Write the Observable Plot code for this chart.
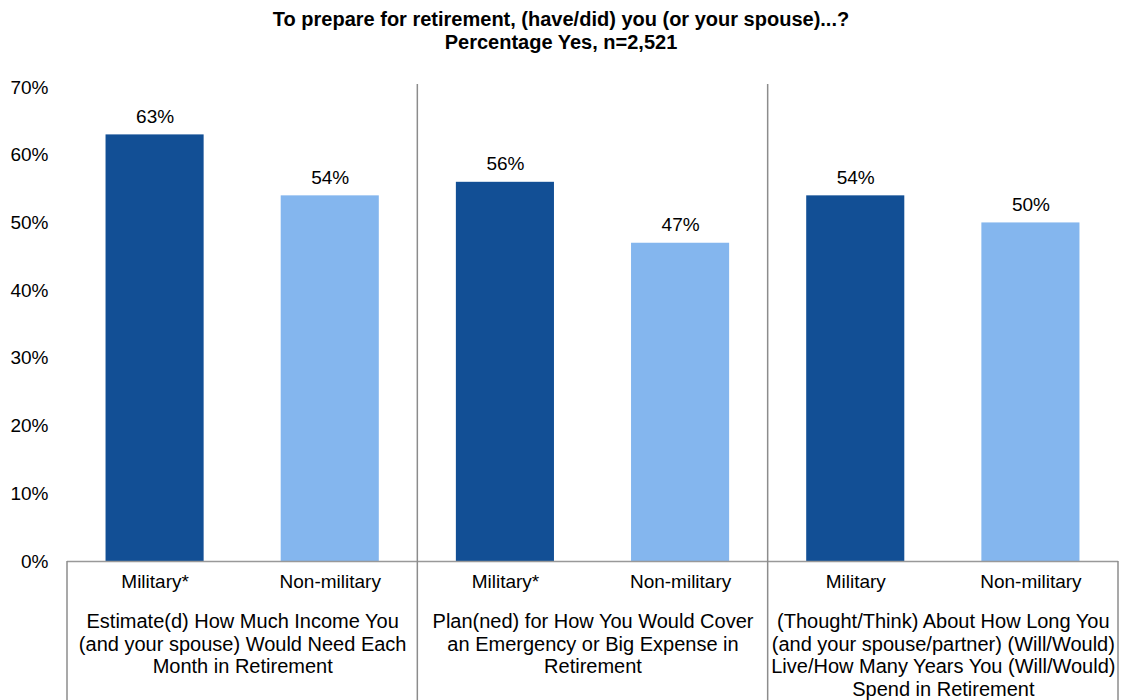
<!DOCTYPE html>
<html><head><meta charset="utf-8">
<script src="https://cdn.jsdelivr.net/npm/d3@7"></script>
<script src="https://cdn.jsdelivr.net/npm/@observablehq/plot@0.6"></script>
<style>
body{margin:0;background:#fff;font-family:"Liberation Sans",Arial,sans-serif;}
#title{width:1122px;height:60px;box-sizing:border-box;padding-top:8px;text-align:center;font-weight:bold;font-size:20px;line-height:23px;color:#000;}
#chart svg{display:block;}
</style></head><body>
<div id="title">To prepare for retirement, (have/did) you (or your spouse)...?<br>Percentage Yes, n=2,521</div>
<div id="chart"></div>
<script>
const groups = [
  "Estimate(d) How Much Income You\n(and your spouse) Would Need Each\nMonth in Retirement",
  "Plan(ned) for How You Would Cover\nan Emergency or Big Expense in\nRetirement",
  "(Thought/Think) About How Long You\n(and your spouse/partner) (Will/Would)\nLive/How Many Years You (Will/Would)\nSpend in Retirement"
];
const series = ["Military", "Non-military"];
const barLabels = [["Military*", "Non-military"], ["Military*", "Non-military"], ["Military", "Non-military"]];
const military = [0.63, 0.56, 0.54];
const nonMilitary = [0.54, 0.47, 0.50];
const yTicks = [0, 0.1, 0.2, 0.3, 0.4, 0.5, 0.6, 0.7];
const colors = ["#124f95", "#84b6ee"];

const rows = groups.flatMap((g, i) => series.map((s, j) => ({
  group: g, series: s, label: barLabels[i][j], value: j === 0 ? military[i] : nonMilitary[i]
})));

const pct = d => Math.round(d * 100) + "%";

const plot = Plot.plot({
  width: 1122, height: 640,
  marginTop: 27, marginBottom: 139, marginLeft: 67, marginRight: 4,
  style: {fontFamily: "Liberation Sans, Arial, sans-serif", fontSize: "19px", color: "#000", background: "#fff"},
  fx: {domain: groups, padding: 0, axis: null, round: false},
  x: {domain: series, paddingInner: 0.44, paddingOuter: 0.22, axis: null, round: false},
  y: {domain: [0, 0.7], axis: null},
  color: {domain: series, range: colors},
  marks: [
    Plot.axisY({ticks: yTicks, tickFormat: pct, tickSize: 0, tickPadding: 19, fontSize: 19, label: null}),
    Plot.barY(rows, {fx: "group", x: "series", y: "value", fill: "series"}),
    Plot.ruleY([0], {stroke: "#999", strokeWidth: 1.5}),
    Plot.text(rows, {fx: "group", x: "series", y: "value", text: d => pct(d.value), dy: -18, fontSize: 19, fill: "#000"}),
    Plot.text(rows, {fx: "group", x: "series", text: "label", frameAnchor: "bottom", dy: 26, fontSize: 19, fill: "#000"}),
    Plot.text(groups, {fx: d => d, text: d => d, frameAnchor: "bottom", dy: 51, lineAnchor: "top", lineHeight: 1.12, fontSize: 20, fill: "#000"})
  ]
});

document.getElementById("chart").appendChild(plot);

// separator lines between facets, positioned through the plot's own scales
const svg = plot.tagName.toLowerCase() === "svg" ? d3.select(plot) : d3.select(plot).select("svg");
const fxd = plot.scale("fx"), yd = plot.scale("y");
const fxs = d3.scaleBand().domain(fxd.domain).range(fxd.range)
  .paddingInner(fxd.paddingInner || 0).paddingOuter(fxd.paddingOuter || 0);
const ys = d3.scaleLinear().domain(yd.domain).range(yd.range);
const H = 640;
const g = svg.append("g").attr("stroke", "#8c8c8c").attr("stroke-width", 1.5);
groups.forEach((grp, i) => {
  const x = fxs(grp);
  g.append("line").attr("x1", x).attr("x2", x)
    .attr("y1", i === 0 ? ys(0) : ys(0.7) - 3).attr("y2", H);
});
const xr = fxs(groups[groups.length - 1]) + fxs.bandwidth();
g.append("line").attr("x1", xr).attr("x2", xr).attr("y1", ys(0)).attr("y2", H);
</script>
</body></html>
